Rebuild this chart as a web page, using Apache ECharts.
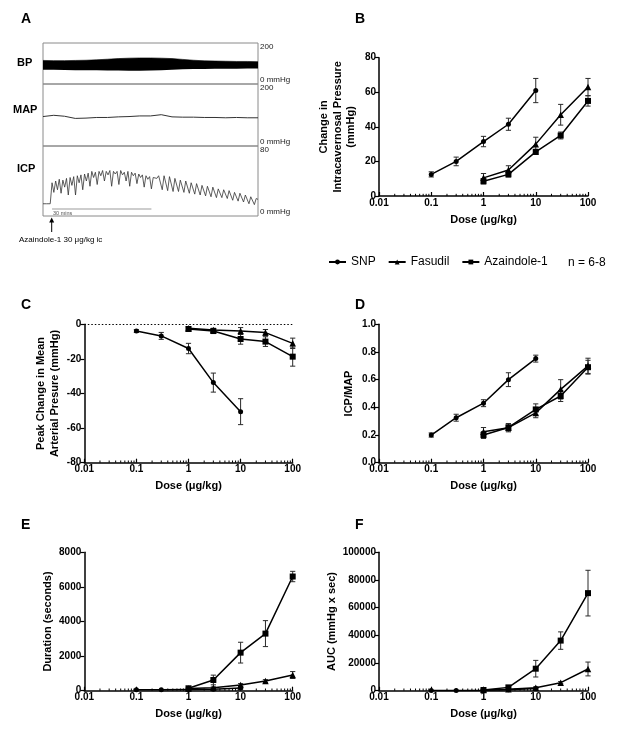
<!DOCTYPE html>
<html>
<head>
<meta charset="utf-8">
<script src="https://cdn.jsdelivr.net/npm/echarts@6/dist/echarts.min.js"></script>
<style>
html,body{margin:0;padding:0;background:#fff;}
#chart{width:624px;height:734px;}
</style>
</head>
<body>
<div id="chart"></div>
<script>
// ---------- Panel A traces ----------
const bpHigh = [115,114,114,115,116,118,121,124,126,127,127,126,124,120,116,113,112,111,110,110,109];
const bpLow  = [70,69,68,67,67,67,66,66,65,65,66,67,70,72,73,73,74,75,75,76,76];
const mapTrace = [95,99,96,89,90,92,92,94,95,97,97,101,94,93,93,92,92,91,92,91,91];
const icpTrace = [14,14,14,14,14,
  38,27,40,30,42,26,41,33,43,24,44,35,45,24,46,38,47,30,48,40,49,34,51,44,50,36,
  51,46,52,40,51,47,52,34,51,48,51,36,52,47,50,40,51,34,50,46,49,37,48,44,47,33,
  46,42,45,31,44,42,43,
  46,47,30,46,45,29,45,44,28,43,42,28,41,40,27,40,39,26,38,38,25,37,36,24,35,35,
  23,34,33,22,33,32,21,31,31,21,30,29,20,29,28,18,27,27,17,26,25,16,24,23,14,22,
  21,13,20,19];

// ---------- Dose-response data ----------
const snpDose = [0.1, 0.3, 1, 3, 10];
const rockDose = [1, 3, 10, 30, 100];

const icpSNP = [12.5, 20, 31.5, 41.5, 61];      const icpSNPErr = [1.5, 2.5, 3, 3.5, 7];
const icpFas = [10.5, 15, 30, 47, 63];          const icpFasErr = [2.5, 2.5, 4, 6, 5];
const icpAza = [8.5, 12.5, 25.5, 35, 55];       const icpAzaErr = [1.5, 1.5, 1.5, 2, 3];

const mapSNP = [-3.9, -6.7, -14, -33.7, -50.5]; const mapSNPErr = [0.8, 2, 3, 5.5, 7.5];
const mapFas = [-2.3, -3.3, -3.9, -4.8, -11];   const mapFasErr = [1, 1, 2, 1.8, 3];
const mapAza = [-2.7, -3.9, -8.5, -10, -18.7];  const mapAzaErr = [1, 1, 3, 2.8, 5.5];

const ratioSNP = [0.2, 0.325, 0.43, 0.6, 0.752]; const ratioSNPErr = [0.015, 0.025, 0.025, 0.05, 0.025];
const ratioFas = [0.224, 0.253, 0.36, 0.53, 0.70]; const ratioFasErr = [0.03, 0.03, 0.035, 0.07, 0.055];
const ratioAza = [0.2, 0.255, 0.385, 0.482, 0.69]; const ratioAzaErr = [0.025, 0.025, 0.04, 0.04, 0.05];

const durSNP = [50, 50, 70, 90, 150];           const durSNPErr = [20, 20, 30, 40, 100];
const durFas = [130, 170, 330, 560, 906];       const durFasErr = [40, 50, 80, 80, 200];
const durAza = [140, 620, 2200, 3300, 6600];    const durAzaErr = [40, 280, 600, 750, 300];

const aucSNP = [150, 200, 400, 700, 1500];      const aucSNPErr = [50, 50, 100, 200, 500];
const aucFas = [480, 960, 2200, 5800, 15700];   const aucFasErr = [200, 300, 600, 800, 5000];
const aucAza = [500, 2400, 15900, 36200, 70500]; const aucAzaErr = [200, 1000, 6000, 6300, 16500];

const xTickValues = [0.01, 0.1, 1, 10, 100];
const xTickLabels = ['0.01', '0.1', '1', '10', '100'];
const minorTickValues = [0.02,0.03,0.04,0.05,0.06,0.07,0.08,0.09,
  0.2,0.3,0.4,0.5,0.6,0.7,0.8,0.9, 2,3,4,5,6,7,8,9, 20,30,40,50,60,70,80,90];
const seriesNames = ['SNP', 'Fasudil', 'Azaindole-1'];

const FONT = "'Liberation Sans', Arial, Helvetica, sans-serif";

const chart = echarts.init(document.getElementById('chart'), null, {renderer: 'canvas'});

const grid = [
  {left: 43, top: 43, width: 215, height: 41},
  {left: 43, top: 84, width: 215, height: 62},
  {left: 43, top: 146, width: 215, height: 70},
  {left: 379, top: 57.7, width: 209, height: 138.3},
  {left: 84.3, top: 324.3, width: 208.4, height: 138.4},
  {left: 379, top: 324.3, width: 209, height: 138.4},
  {left: 84.3, top: 552.3, width: 208.4, height: 138.4},
  {left: 379, top: 552.3, width: 209, height: 138.4}
].map((g, i) => Object.assign({containLabel: false}, g, i < 3 ? {show: true, borderColor: '#8a8a8a', borderWidth: 1} : {}));

const xAxis = [];
const yAxis = [];

// trace axes
[bpHigh, mapTrace, icpTrace].forEach((arr, i) => {
  xAxis.push({type: 'category', gridIndex: i, data: arr.map((_, k) => k), boundaryGap: false, show: false});
});
[[200, 'bp'], [200, 'map'], [80, 'icp']].forEach((m, i) => {
  yAxis.push({
    type: 'value', gridIndex: i, position: 'right', min: 0, max: m[0], interval: m[0],
    axisLine: {show: false}, axisTick: {show: false}, splitLine: {show: false},
    axisLabel: {
      show: true, margin: 2, fontSize: 8, color: '#222', fontFamily: FONT,
      formatter: v => (v === 0 ? '0 mmHg' : String(v)),
      verticalAlignMinLabel: 'bottom', verticalAlignMaxLabel: 'top'
    }
  });
});

function logAxis(gi) {
  return {
    type: 'log', logBase: 10, gridIndex: gi, min: 0.01, max: 100,
    axisLine: {show: true, onZero: false, lineStyle: {color: '#000', width: 1.5}},
    axisTick: {show: true, inside: true, length: 4, lineStyle: {color: '#000', width: 1.2}},
    minorTick: {show: false}, splitLine: {show: false},
    axisLabel: {
      color: '#000', fontFamily: FONT, fontWeight: 'bold', fontSize: 10, margin: 2,
      formatter: v => {
        const k = xTickValues.findIndex(t => Math.abs(Math.log10(t) - Math.log10(v)) < 0.01);
        return k >= 0 ? xTickLabels[k] : '';
      }
    },
    name: 'Dose (μg/kg)', nameLocation: 'middle', nameGap: 18,
    nameTextStyle: {color: '#000', fontFamily: FONT, fontWeight: 'bold', fontSize: 11}
  };
}
function valAxis(gi, min, max, interval, name, gap) {
  return {
    type: 'value', gridIndex: gi, min, max, interval,
    axisLine: {show: true, onZero: false, lineStyle: {color: '#000', width: 1.5}},
    axisTick: {show: true, inside: false, length: 4, lineStyle: {color: '#000', width: 1.2}},
    splitLine: {show: false},
    axisLabel: {color: '#000', fontFamily: FONT, fontWeight: 'bold', fontSize: 10, margin: 3,
      formatter: v => (interval < 1 ? v.toFixed(1) : String(v))},
    name, nameLocation: 'middle', nameRotate: 90, nameGap: gap,
    nameTextStyle: {color: '#000', fontFamily: FONT, fontWeight: 'bold', fontSize: 11, lineHeight: 13.5, align: 'center'}
  };
}

const panels = [
  {gi: 3, ymin: 0, ymax: 80, int: 20, name: 'Change in\nIntracavernosal Pressure\n(mmHg)', gap: 21,
   sets: [[icpSNP, icpSNPErr], [icpFas, icpFasErr], [icpAza, icpAzaErr]]},
  {gi: 4, ymin: -80, ymax: 0, int: 20, name: 'Peak Change in Mean\nArterial Presure (mmHg)', gap: 23,
   sets: [[mapSNP, mapSNPErr], [mapFas, mapFasErr], [mapAza, mapAzaErr]], zeroLine: true},
  {gi: 5, ymin: 0, ymax: 1, int: 0.2, name: 'ICP/MAP', gap: 23,
   sets: [[ratioSNP, ratioSNPErr], [ratioFas, ratioFasErr], [ratioAza, ratioAzaErr]]},
  {gi: 6, ymin: 0, ymax: 8000, int: 2000, name: 'Duration (seconds)', gap: 30,
   sets: [[durSNP, durSNPErr], [durFas, durFasErr], [durAza, durAzaErr]]},
  {gi: 7, ymin: 0, ymax: 100000, int: 20000, name: 'AUC (mmHg x sec)', gap: 40,
   sets: [[aucSNP, aucSNPErr], [aucFas, aucFasErr], [aucAza, aucAzaErr]]}
];

panels.forEach(p => {
  xAxis.push(logAxis(p.gi));
  yAxis.push(valAxis(p.gi, p.ymin, p.ymax, p.int, p.name, p.gap));
});

const series = [];

// BP band (stacked)
series.push({type: 'line', xAxisIndex: 0, yAxisIndex: 0, data: bpLow, stack: 'bp', symbol: 'none',
  lineStyle: {opacity: 0}, silent: true});
series.push({type: 'line', xAxisIndex: 0, yAxisIndex: 0, data: bpHigh.map((h, i) => h - bpLow[i]), stack: 'bp',
  symbol: 'none', lineStyle: {width: 0.6, color: '#000'}, areaStyle: {color: '#000', opacity: 1}, silent: true});
series.push({type: 'line', xAxisIndex: 1, yAxisIndex: 1, data: mapTrace, symbol: 'none',
  lineStyle: {width: 1, color: '#333'}, silent: true});
series.push({type: 'line', xAxisIndex: 2, yAxisIndex: 2, data: icpTrace, symbol: 'none',
  lineStyle: {width: 0.8, color: '#333'}, silent: true,
  markLine: {silent: true, symbol: 'none',
    data: [[{coord: [5, 8]}, {coord: [60, 8]}]],
    lineStyle: {color: '#bdbdbd', width: 1.5, type: 'solid'},
    label: {show: true, formatter: '30 mins', position: 'insideStartBottom', fontSize: 5.5, color: '#555', distance: 1, fontFamily: FONT}
  }});

const symbols = [['circle', 5], ['triangle', 6.5], ['rect', 6]];

function errRender(params, api) {
  const x = api.value(0), y = api.value(1), e = api.value(2);
  const t = api.coord([x, y + e]);
  const b = api.coord([x, y - e]);
  const w = 2.6;
  const st = {stroke: '#2a2a2a', lineWidth: 1};
  return {type: 'group', children: [
    {type: 'line', shape: {x1: t[0], y1: t[1], x2: b[0], y2: b[1]}, style: st},
    {type: 'line', shape: {x1: t[0] - w, y1: t[1], x2: t[0] + w, y2: t[1]}, style: st},
    {type: 'line', shape: {x1: b[0] - w, y1: b[1], x2: b[0] + w, y2: b[1]}, style: st}
  ]};
}
function minorRender(params, api) {
  const p = api.coord([api.value(0), api.value(1)]);
  return {type: 'line', shape: {x1: p[0], y1: p[1], x2: p[0], y2: p[1] - 2.2}, style: {stroke: '#000', lineWidth: 1}};
}

panels.forEach((p, pi) => {
  const ai = 3 + pi;
  series.push({type: 'custom', name: 'minor' + pi, xAxisIndex: ai, yAxisIndex: ai, silent: true,
    renderItem: minorRender, data: minorTickValues.map(v => [v, p.ymin]), clip: false});
  p.sets.forEach((s, si) => {
    const dose = si === 0 ? snpDose : rockDose;
    series.push({type: 'custom', name: 'err' + pi + si, xAxisIndex: ai, yAxisIndex: ai, silent: true,
      renderItem: errRender, data: dose.map((d, k) => [d, s[0][k], s[1][k]]), z: 3});
    const ls = {
      type: 'line', name: seriesNames[si], xAxisIndex: ai, yAxisIndex: ai,
      data: dose.map((d, k) => [d, s[0][k]]),
      symbol: symbols[si][0], symbolSize: symbols[si][1],
      itemStyle: {color: '#000'}, lineStyle: {color: '#000', width: 1.5},
      emphasis: {disabled: true}, z: 4
    };
    if (p.zeroLine && si === 1) {
      ls.markLine = {silent: true, symbol: 'none', data: [{yAxis: 0}],
        lineStyle: {color: '#000', type: [1.5, 2], width: 1}, label: {show: false}};
    }
    series.push(ls);
  });
});

function txt(x, y, text, font, align) {
  return {type: 'text', x, y, silent: true,
    style: {text, font, fill: '#000', textAlign: align || 'left', textVerticalAlign: 'middle',
      align: align || 'left', verticalAlign: 'middle'}};
}
const BOLD14 = 'bold 14px ' + FONT;
const BOLD11 = 'bold 11px ' + FONT;

const graphic = [
  txt(21, 19.5, 'A', BOLD14), txt(355, 19, 'B', BOLD14),
  txt(21, 305, 'C', BOLD14), txt(355, 305, 'D', BOLD14),
  txt(21, 525, 'E', BOLD14), txt(355, 525, 'F', BOLD14),
  txt(17, 62.5, 'BP', BOLD11), txt(13, 110, 'MAP', BOLD11), txt(17, 169, 'ICP', BOLD11),
  txt(19, 240, 'Azaindole-1 30 μg/kg ic', '8px ' + FONT),
  txt(568, 262.7, 'n = 6-8', '12px ' + FONT),
  {type: 'line', silent: true, shape: {x1: 51.7, y1: 232, x2: 51.7, y2: 221}, style: {stroke: '#000', lineWidth: 1}},
  {type: 'polygon', silent: true, shape: {points: [[49.2, 222.5], [54.2, 222.5], [51.7, 217.5]]}, style: {fill: '#000'}}
];

chart.setOption({
  animation: false,
  backgroundColor: '#fff',
  textStyle: {fontFamily: FONT},
  grid, xAxis, yAxis, series, graphic,
  legend: {
    data: seriesNames, left: 328, top: 256, padding: 0, itemWidth: 17, itemHeight: 6, itemGap: 12,
    selectedMode: false, textStyle: {fontSize: 12, color: '#000', fontFamily: FONT}
  }
});
</script>
</body>
</html>
